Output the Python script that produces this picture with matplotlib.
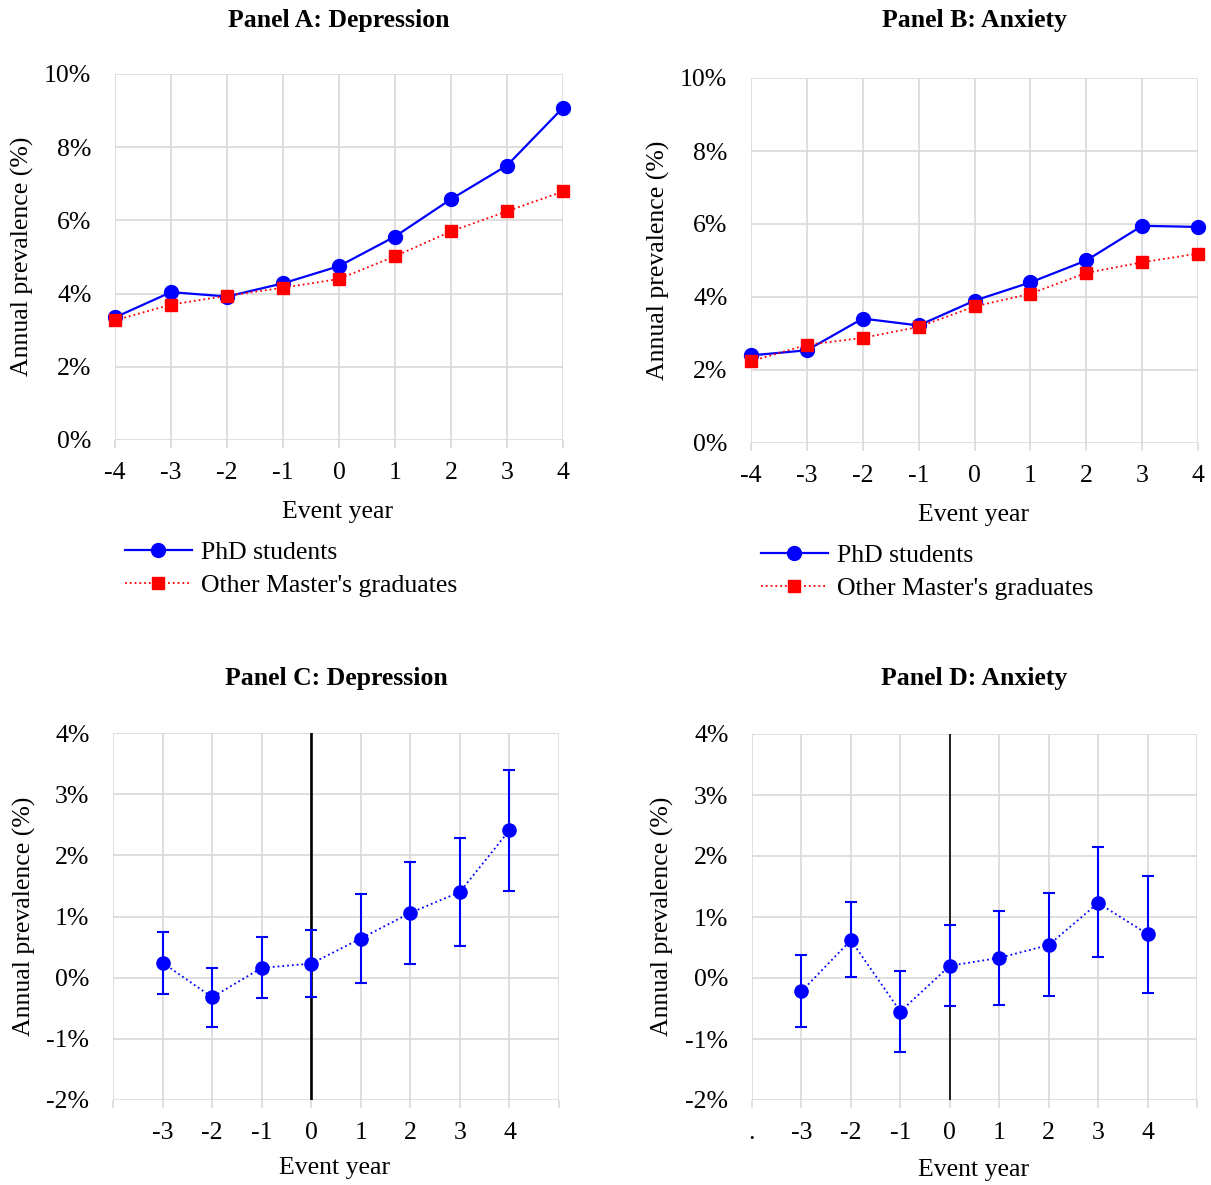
import matplotlib
matplotlib.use("Agg")
import matplotlib.pyplot as plt

plt.rcParams['font.family'] = ['Liberation Serif', 'DejaVu Serif']

# ---- data ----
years_top = [-4, -3, -2, -1, 0, 1, 2, 3, 4]
dep_phd = [3.35, 4.04, 3.92, 4.28, 4.75, 5.56, 6.58, 7.50, 9.08]
dep_master = [3.27, 3.70, 3.94, 4.16, 4.40, 5.02, 5.70, 6.25, 6.79]
anx_phd = [2.40, 2.54, 3.41, 3.22, 3.90, 4.40, 5.00, 5.95, 5.92]
anx_master = [2.24, 2.69, 2.88, 3.18, 3.74, 4.09, 4.66, 4.95, 5.19]

years_bot = [-3, -2, -1, 0, 1, 2, 3, 4]
dep_est = [0.245, -0.32, 0.16, 0.23, 0.64, 1.06, 1.40, 2.41]
dep_lo = [-0.26, -0.80, -0.34, -0.31, -0.08, 0.22, 0.51, 1.42]
dep_hi = [0.75, 0.15, 0.67, 0.78, 1.37, 1.89, 2.28, 3.39]
anx_est = [-0.22, 0.62, -0.55, 0.20, 0.33, 0.54, 1.23, 0.72]
anx_lo = [-0.81, 0.02, -1.22, -0.46, -0.44, -0.29, 0.34, -0.24]
anx_hi = [0.37, 1.24, 0.12, 0.87, 1.10, 1.39, 2.14, 1.68]

W, H = 1211, 1185
GRID = '#d9d9d9'
FS = 18.5

fig = plt.figure(figsize=(W / 100, H / 100), dpi=100)


def box(l, t, r, b):
    return [l / W, 1 - b / H, (r - l) / W, (b - t) / H]


def ftext(x, y, s, **kw):
    fig.text(x / W, 1 - y / H, s, ha='center', va='center', fontsize=FS, **kw)


def style(ax, ylim, yticks, xlim, xticks, xlabels):
    ax.set_xlim(*xlim)
    ax.set_ylim(*ylim)
    ax.set_yticks(yticks)
    ax.set_yticklabels([f"{v}%" for v in yticks], fontsize=FS)
    ax.set_xticks(xticks)
    ax.set_xticklabels(xlabels, fontsize=FS)
    ax.grid(True, color=GRID, lw=1.2)
    ax.set_axisbelow(True)
    for s in ax.spines.values():
        s.set_visible(False)
    ax.tick_params(axis='y', length=0, pad=17)
    ax.tick_params(axis='x', length=6, width=1.2, color=GRID, pad=10)


# ---- top panels ----
top = [
    (box(115, 74, 563, 440), dep_phd, dep_master, "Panel A: Depression", (22, 256), (338, 512), (125, 541)),
    (box(751, 78, 1198, 443), anx_phd, anx_master, "Panel B: Anxiety", (658, 260), (974, 515), (761, 544)),
]
for rect, phd, mas, title, yl, xl, lg in top:
    ax = fig.add_axes(rect)
    style(ax, (0, 10), [0, 2, 4, 6, 8, 10], (-4, 4), years_top, [str(y) for y in years_top])
    ax.plot(years_top, phd, '-o', color='blue', lw=1.6, ms=10, label='PhD students', clip_on=False, zorder=4)
    ax.plot(years_top, mas, ':s', color='red', lw=1.3, ms=8, label="Other Master's graduates", clip_on=False, zorder=5)
    ftext((rect[0] + rect[2] / 2) * W, 20, title, fontweight='bold')
    ftext(yl[0], yl[1], "Annual prevalence (%)", rotation=90)
    ftext(xl[0], xl[1], "Event year")
    fig.legend(handles=ax.get_lines(), loc='upper left',
               bbox_to_anchor=(lg[0] / W, 1 - lg[1] / H), frameon=False,
               prop={'family': 'Liberation Serif', 'size': FS},
               handlelength=2.6, handletextpad=0.35,
               labelspacing=0.4, borderpad=0, borderaxespad=0)

# ---- bottom panels ----
bot = [
    (box(113, 733, 559, 1100), dep_est, dep_lo, dep_hi, "Panel C: Depression", (24, 916), (335, 1168), 1.9, ''),
    (box(752, 734, 1197, 1100), anx_est, anx_lo, anx_hi, "Panel D: Anxiety", (662, 916), (974, 1170), 1.2, '.'),
]
for rect, est, lo, hi, title, yl, xl, vlw, first in bot:
    ax = fig.add_axes(rect)
    labels = [first] + [str(y) for y in years_bot] + ['']
    style(ax, (-2, 4), [-2, -1, 0, 1, 2, 3, 4], (-4, 5), list(range(-4, 6)), labels)
    ax.axvline(0, color='black', lw=vlw, zorder=3)
    err = [[e - l for e, l in zip(est, lo)], [h - e for e, h in zip(est, hi)]]
    ax.errorbar(years_bot, est, yerr=err, fmt='none', ecolor='blue',
                elinewidth=1.5, capsize=4.3, capthick=1.5, zorder=4)
    ax.plot(years_bot, est, ':o', color='blue', lw=1.3, ms=9.5, zorder=5)
    ftext((rect[0] + rect[2] / 2) * W, 678, title, fontweight='bold')
    ftext(yl[0], yl[1], "Annual prevalence (%)", rotation=90)
    ftext(xl[0], xl[1], "Event year")

fig.savefig("out.png", dpi=100)
